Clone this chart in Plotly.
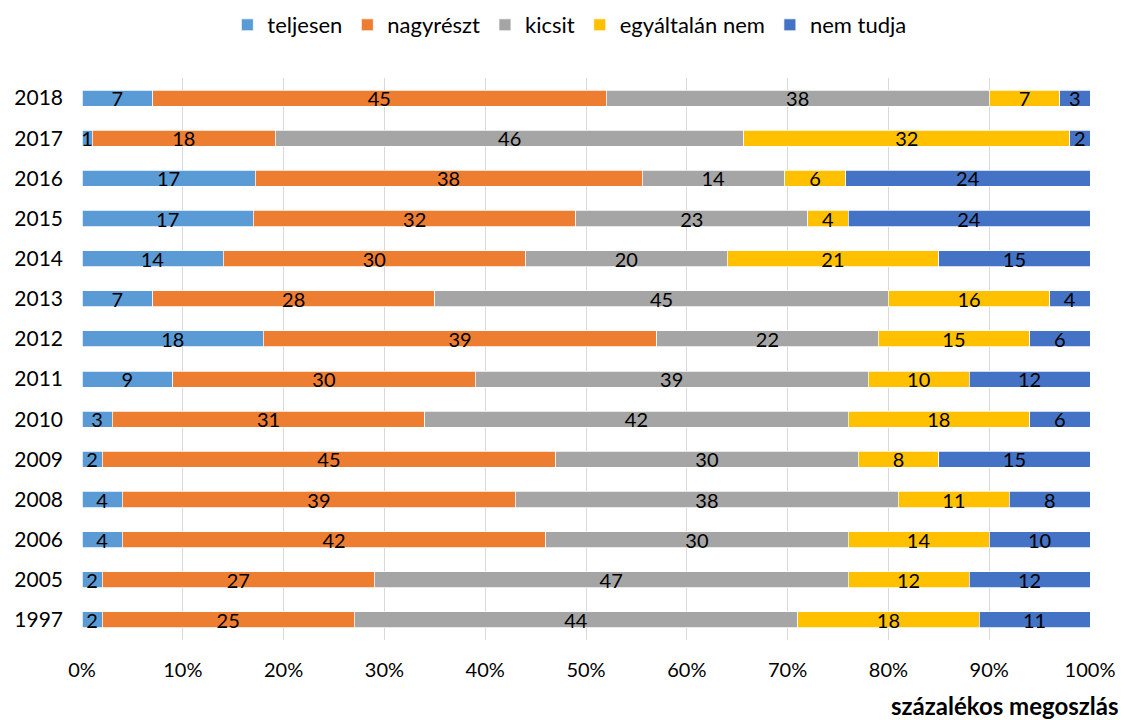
import plotly.graph_objects as go

years = ["2018", "2017", "2016", "2015", "2014", "2013", "2012", "2011", "2010", "2009", "2008", "2006", "2005", "1997"]
teljesen = [7, 1, 17, 17, 14, 7, 18, 9, 3, 2, 4, 4, 2, 2]
nagyreszt = [45, 18, 38, 32, 30, 28, 39, 30, 31, 45, 39, 42, 27, 25]
kicsit = [38, 46, 14, 23, 20, 45, 22, 39, 42, 30, 38, 30, 47, 44]
egyaltalan_nem = [7, 32, 6, 4, 21, 16, 15, 10, 18, 8, 11, 14, 12, 18]
nem_tudja = [3, 2, 24, 24, 15, 4, 6, 12, 6, 15, 8, 10, 12, 11]

series = [
    ("teljesen", teljesen, "#5B9BD5"),
    ("nagyrészt", nagyreszt, "#ED7D31"),
    ("kicsit", kicsit, "#A5A5A5"),
    ("egyáltalán nem", egyaltalan_nem, "#FFC000"),
    ("nem tudja", nem_tudja, "#4472C4"),
]
x_ticks = [0, 10, 20, 30, 40, 50, 60, 70, 80, 90, 100]
x_tick_labels = [f"{t}%" for t in x_ticks]

FONT = "Lato, Carlito, Calibri, sans-serif"

# page body has an 8px margin: compensate so the figure fills the 1129x720 window
W, H = 1121, 712
ML, MT, MR, MB = 74, 70, 39, 80
plot_w = W - ML - MR
plot_h = H - MT - MB

fig = go.Figure()
for name, vals, color in series:
    fig.add_trace(go.Bar(
        y=years, x=vals, name=name, orientation="h",
        marker=dict(color=color, line=dict(color="white", width=0.75)),
        text=[str(v) for v in vals], textposition="inside",
        insidetextanchor="middle", textangle=0,
        textfont=dict(color="black", size=20, family=FONT),
        width=0.4,
    ))

fig.update_layout(
    barmode="stack", barnorm="percent",
    width=W, height=H,
    margin=dict(l=ML, r=MR, t=MT, b=MB),
    plot_bgcolor="white", paper_bgcolor="white",
    font=dict(family=FONT, size=20, color="black"),
    uniformtext=dict(minsize=20, mode="show"),
    legend=dict(orientation="h", x=(550 - 8) / W, xanchor="center",
                y=1 - 17 / H, yref="container", yanchor="middle",
                font=dict(size=22), traceorder="normal"),
    showlegend=True,
)
fig.update_xaxes(range=[0, 100], tickvals=x_ticks, ticktext=x_tick_labels,
                 showgrid=True, gridcolor="#D9D9D9", gridwidth=1,
                 zeroline=False, showline=False, ticks="", ticklabelstandoff=16,
                 tickfont=dict(size=20), automargin=False)
fig.update_yaxes(categoryorder="array", categoryarray=years[::-1],
                 showgrid=False, ticks="", ticklabelstandoff=18,
                 tickfont=dict(size=21), automargin=False)
fig.add_annotation(text="<b>százalékos megoszlás</b>", xref="paper", yref="paper",
                   x=(1121 - 82) / plot_w, y=-(705 - 640) / plot_h,
                   xanchor="right", yanchor="middle",
                   showarrow=False, font=dict(size=24, family=FONT))

fig.write_html("out.html")
